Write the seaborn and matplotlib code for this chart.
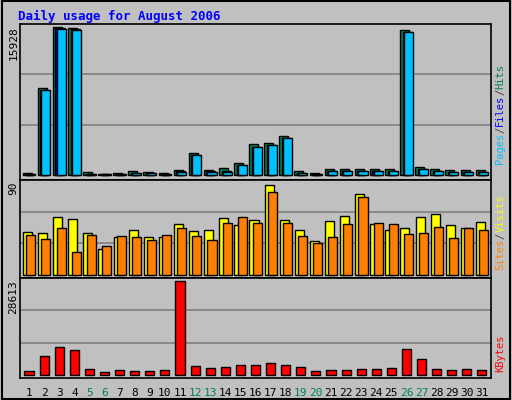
import matplotlib
matplotlib.use("Agg")
import matplotlib.pyplot as plt
import seaborn as sns
import numpy as np

sns.set_style("white")
plt.rcParams['font.family'] = ['DejaVu Sans Mono', 'DejaVu Sans']

days = [str(d) for d in range(1, 32)]
weekend = ['5', '6', '12', '13', '19', '20', '26', '27']
hits = [300, 9380, 15928, 15800, 330, 200, 300, 440, 400, 250, 550, 2400, 550, 760, 1300, 3380,
        3500, 4250, 440, 300, 650, 650, 650, 650, 650, 15600, 870, 650, 550, 550, 550]
files = [150, 9160, 15800, 15700, 200, 120, 150, 250, 250, 150, 440, 2180, 440, 440, 1100, 3050,
         3270, 4030, 300, 200, 440, 440, 440, 440, 440, 15380, 650, 440, 330, 330, 330]
pages = [140, 9100, 15700, 15600, 180, 110, 140, 240, 240, 140, 420, 2150, 420, 420, 1080, 3000,
         3250, 4000, 290, 190, 430, 430, 430, 430, 430, 15300, 640, 430, 320, 320, 320]
visits = [41, 40, 55, 53, 40, 25, 36, 43, 36, 36, 48, 42, 43, 54, 47, 52, 85, 52, 43, 32, 51, 56,
          77, 48, 43, 45, 55, 58, 47, 45, 50]
sites = [38, 34, 45, 22, 38, 28, 37, 36, 33, 38, 45, 37, 33, 49, 55, 49, 79, 49, 37, 30, 36, 48,
         74, 49, 48, 39, 40, 46, 35, 45, 43]
kbytes = [1200, 5960, 8640, 7750, 1790, 900, 1490, 1200, 1200, 1490, 28613, 2680, 2090, 2380,
          2980, 2980, 3580, 2980, 2380, 1200, 1490, 1490, 1790, 1790, 2090, 8050, 4770, 1790,
          1490, 1790, 1490]

BG = '#C0C0C0'
fig = plt.figure(figsize=(5.12, 4.0), dpi=100, facecolor=BG)
x = np.arange(len(days))
L, W = 0.039, 0.92
FS = 7.5
CH = 0.6 * FS / 72 * 100 / 400  # char advance in figure-height fraction

def setup(ax, ymax, label):
    ax.set_facecolor(BG)
    ax.set_xlim(-0.6, len(days) - 0.4)
    ax.set_ylim(-ymax * 0.03, ymax * 1.0)
    for v in (ymax / 3, 2 * ymax / 3):
        ax.axhline(v, color='#808080', lw=1.2, zorder=0)
    ax.set_yticks([]); ax.set_xticks([])
    for s in ax.spines.values():
        s.set_color('black'); s.set_linewidth(1.2)
    pos = ax.get_position()
    fig.text(0.026, pos.y1 - 0.005, label, rotation=90, ha='center', va='top',
             fontsize=8, color='black')

def side(pieces, y0):
    y = y0
    for txt, c in pieces:
        fig.text(0.977, y, txt, rotation=90, color=c, fontsize=FS, ha='center', va='bottom')
        y += len(txt) * CH

ek = dict(edgecolor='black', linewidth=1)
a1 = fig.add_axes([L, 0.55, W, 0.39])
setup(a1, 16200, '15928')
a1.bar(x - 0.12, hits, width=0.6, color='#00805C', zorder=2, **ek)
a1.bar(x + 0.05, files, width=0.6, color='#0000FF', zorder=3, **ek)
a1.bar(x + 0.12, pages, width=0.6, color='#00C0FF', zorder=4, **ek)
side([('Pages', '#00C0FF'), ('/', '#404040'), ('Files', '#0000FF'), ('/', '#404040'),
      ('Hits', '#00805C')], 0.59)

a2 = fig.add_axes([L, 0.305, W, 0.245])
setup(a2, 90, '90')
a2.bar(x - 0.1, visits, width=0.6, color='#FFFF00', zorder=2, **ek)
a2.bar(x + 0.12, sites, width=0.6, color='#FF8000', zorder=3, **ek)
side([('Sites', '#FF8000'), ('/', '#404040'), ('Visits', '#FFFF00')], 0.325)

a3 = fig.add_axes([L, 0.055, W, 0.25])
setup(a3, 29600, '28613')
sns.barplot(x=x, y=kbytes, ax=a3, native_scale=True, width=0.6, color='#FF0000',
            saturation=1, edgecolor='black', linewidth=1, zorder=2)
a3.set_xlim(-0.6, len(days) - 0.4); a3.set_xticks([])
side([('KBytes', '#FF0000')], 0.07)

for i, d in enumerate(days):
    a3.text(i, -0.1, d, transform=a3.get_xaxis_transform(), ha='center', va='top', fontsize=8,
            color='#00805C' if d in weekend else 'black')

fig.text(0.035, 0.975, 'Daily usage for August 2006', color='#0000FF', fontsize=9,
         fontweight='bold', ha='left', va='top')
fig.patches.append(plt.Rectangle((0.003, 0.003), 0.994, 0.994, transform=fig.transFigure,
                                 fill=False, edgecolor='black', lw=1.5))
fig.savefig('out.png', dpi=100, facecolor=BG)
